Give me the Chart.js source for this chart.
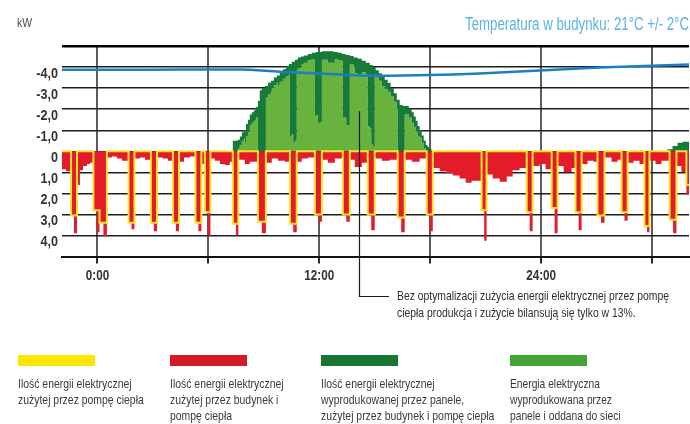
<!DOCTYPE html>
<html lang="pl">
<head>
<meta charset="utf-8">
<title>Zużycie i produkcja energii</title>
<script src="https://cdn.jsdelivr.net/npm/chart.js@4.4.1/dist/chart.umd.min.js"></script>
<style>
  html, body { margin: 0; padding: 0; background: #fff; }
  #wrap { position: relative; width: 690px; height: 424px; overflow: hidden;
          font-family: 'Liberation Sans', Arial, sans-serif; }
  #chart { position: absolute; left: 0; top: 0; }
  .txt { position: absolute; white-space: nowrap; transform-origin: 0 0; }
  #unit { left: 17px; top: 15px; font-size: 13px; color: #4a4a4a; }
  #title { top: 14px; font-size: 18px; color: #5fb2e4; }
  .note { left: 397px; font-size: 13px; color: #2e2e2e; }
  .sw { position: absolute; top: 355px; width: 77px; height: 11px; }
  .leg { position: absolute; top: 376px; font-size: 13px; line-height: 16px; color: #3a3a3a; }
  .leg div { white-space: nowrap; width: max-content; transform-origin: 0 0; }
</style>
</head>
<body>
<div id="wrap">
  <canvas id="chart" width="690" height="424"></canvas>
  <div class="txt" id="unit">kW</div>
  <div class="txt" id="title">Temperatura w budynku: 21°C +/- 2°C</div>
  <div class="txt note" id="note1" style="top:288px">Bez optymalizacji zużycia energii elektrycznej przez pompę</div>
  <div class="txt note" id="note2" style="top:305px">ciepła produkcja i zużycie bilansują się tylko w 13%.</div>

  <div class="sw" style="left:18px;background:#ffe600"></div>
  <div class="sw" style="left:170px;background:#d41a22"></div>
  <div class="sw" style="left:321px;background:#177634"></div>
  <div class="sw" style="left:510px;background:#43a537"></div>

  <div class="leg" style="left:18px" data-w="113.6">
    <div>Ilość energii elektrycznej</div>
    <div>zużytej przez pompę ciepła</div>
  </div>
  <div class="leg" style="left:170px" data-w="113.6">
    <div>Ilość energii elektrycznej</div>
    <div>zużytej przez budynek i</div>
    <div>pompę ciepła</div>
  </div>
  <div class="leg" style="left:321px" data-w="113.6">
    <div>Ilość energii elektrycznej</div>
    <div>wyprodukowanej przez panele,</div>
    <div>zużytej przez budynek i pompę ciepła</div>
  </div>
  <div class="leg" style="left:510px" data-w="90">
    <div>Energia elektryczna</div>
    <div>wyprodukowana przez</div>
    <div>panele i oddana do sieci</div>
  </div>
</div>

<script>
// Time axis in hours (0 = midnight of the first day)
const T_START = -1.92;
const T_END = 32;

// Total consumption of the building incl. heat pump [kW], step changes
const loadH = [-1.92, -1.70, -1.43, -1.27, -1.11, -0.95, -0.78, -0.57, -0.41, -0.22, -0.05, 0.11, 0.32, 0.51, 0.78, 1.05, 1.32,
  1.68, 1.84, 2.00, 2.30, 2.57, 2.89, 3.05, 3.22, 3.54, 3.81, 4.08, 4.24, 4.41, 4.68, 5.00, 5.30, 5.46, 5.62, 5.81, 5.97,
  6.11, 6.35, 6.62, 6.89, 7.16, 7.32, 7.49, 7.62, 7.97, 8.24, 8.68, 8.89, 9.11, 9.43, 9.76, 10.14, 10.41, 10.59, 10.78,
  11.05, 11.38, 11.76, 11.95, 12.14, 12.46, 12.84, 13.27, 13.46, 13.65, 13.92, 14.30, 14.62, 14.81, 15.00, 15.38, 15.81,
  16.24, 16.43, 16.62, 17.00, 17.43, 17.81, 17.97, 18.14, 18.51, 18.89, 19.22, 19.59, 19.92, 20.24, 20.78, 20.92, 21.05,
  21.38, 21.76, 22.14, 22.46, 22.84, 23.22, 23.38, 23.54, 23.92, 24.24, 24.57, 24.73, 24.89, 25.22, 25.65, 25.86, 26.03,
  26.19, 26.51, 26.84, 27.05, 27.24, 27.43, 27.81, 28.14, 28.35, 28.51, 28.68, 29.00, 29.32, 29.59, 29.73, 29.86, 30.19,
  30.51, 30.95, 31.14, 31.32, 31.59, 31.86];
const loadKw = [0.85, 0.95, 3.05, 3.9, 1.6, 0.9, 0.7, 0.6, 0.55, 2.8, 3.85, 3.4, 4.05, 0.3, 0.25, 0.35, 0.45,
  3.4, 3.7, 0.35, 0.3, 0.4, 3.4, 3.8, 0.3, 0.35, 0.45, 3.4, 3.8, 0.5, 0.3, 0.25, 3.4, 3.8, 0.6, 2.9, 4.0,
  0.35, 0.45, 0.6, 0.65, 0.5, 3.45, 4.0, 0.4, 0.6, 0.5, 3.35, 3.9, 0.55, 0.35, 0.45, 0.5, 3.45, 3.85, 0.5,
  0.35, 0.3, 3.0, 3.35, 0.4, 0.55, 0.35, 3.0, 3.35, 0.4, 0.75, 0.55, 3.0, 3.75, 0.35, 0.45, 0.4,
  3.15, 3.85, 0.4, 0.5, 0.35, 3.0, 3.8, 0.8, 0.95, 1.05, 1.15, 1.3, 1.5, 1.4, 2.8, 4.25, 1.1,
  1.3, 1.45, 1.2, 0.9, 0.8, 2.9, 3.8, 0.7, 0.6, 0.85, 2.7, 3.9, 0.7, 1.0, 0.8, 2.9, 3.75,
  0.6, 0.45, 0.5, 3.05, 3.4, 0.3, 0.5, 0.4, 2.9, 3.3, 0.55, 0.45, 0.6, 3.55, 3.85, 0.45, 0.6,
  0.45, 3.25, 3.9, 0.7, 1.0, 2.05];

// Heat pump consumption [kW], step changes (on / off)
const pumpH = [-1.43, -1.11, -0.22, 0.11, 0.51, 1.68, 2.00, 2.89, 3.22, 4.08, 4.41, 5.30, 5.62, 5.81, 6.11, 7.32, 7.62,
  8.68, 9.11, 10.41, 10.78, 11.76, 12.14, 13.27, 13.65, 14.62, 15.00, 16.24, 16.62, 17.81, 18.14, 20.78, 21.05,
  23.22, 23.54, 24.57, 24.89, 25.86, 26.19, 27.05, 27.43, 28.35, 28.68, 29.59, 29.86, 30.95, 31.32, 31.86];
const pumpKw = [3.05, 0, 2.8, 3.4, 0, 3.4, 0, 3.4, 0, 3.4, 0, 3.4, 0, 2.9, 0, 3.45, 0,
  3.35, 0, 3.45, 0, 3.0, 0, 3.0, 0, 3.0, 0, 3.15, 0, 3.0, 0, 2.8, 0,
  2.9, 0, 2.7, 0, 2.9, 0, 3.05, 0, 2.9, 0, 3.55, 0, 3.25, 0, 1.6];

// PV production [kW], step changes
const pvH = [7.32, 7.59, 7.70, 7.81, 7.92, 8.03, 8.14, 8.24, 8.35, 8.46, 8.57, 8.68, 8.78, 8.89, 9.05, 9.22, 9.38,
  9.54, 9.70, 9.86, 10.03, 10.19, 10.35, 10.51, 10.68, 10.84, 11.00, 11.16, 11.38, 11.59, 11.81, 12.14, 12.78,
  13.00, 13.22, 13.43, 13.65, 13.86, 14.08, 14.30, 14.51, 14.73, 14.89, 15.05, 15.22, 15.38, 15.54, 15.70, 15.86,
  16.03, 16.19, 16.35, 16.51, 16.68, 16.84, 17.00, 17.11, 17.22, 17.32, 17.43, 17.54, 17.65, 17.76, 17.86, 17.97,
  18.08, 30.84, 31.11, 31.38, 31.65];
const pvKw = [0.5, 0.55, 0.7, 0.9, 1.0, 1.3, 1.5, 1.75, 1.85, 1.95, 2.1, 2.4, 2.9, 3.0, 3.1, 3.25, 3.35,
  3.5, 3.6, 3.75, 3.9, 4.05, 4.15, 4.25, 4.35, 4.45, 4.5, 4.55, 4.62, 4.68, 4.72, 4.75, 4.72,
  4.68, 4.62, 4.57, 4.52, 4.45, 4.4, 4.3, 4.2, 4.1, 4.0, 3.85, 3.7, 3.55, 3.4, 3.25, 3.0,
  2.75, 2.45, 2.2, 2.15, 2.15, 2.0, 1.85, 1.65, 1.45, 1.2, 1.0, 0.75, 0.5, 0.3, 0.2, 0.1,
  0, 0.1, 0.25, 0.4, 0.45];

// Indoor temperature [°C]
const tempH = [-1.92, 2.84, 7.70, 9.86, 12.57, 15.27, 17.97, 20.68, 23.38, 27.16, 32.0];
const tempC = [21.28, 21.30, 21.32, 21.07, 20.81, 20.60, 20.68, 20.87, 21.15, 21.55, 21.90];

// Axis ticks and labels
const hourTicks = [0, 6, 12, 18, 24, 30];
const hourLabels = ['0:00', '', '12:00', '', '24:00', ''];
const kwTicks = [-5, -4, -3, -2, -1, 0, 1, 2, 3, 4, 5];
const kwLabels = ['', '-4,0', '-3,0', '-2,0', '-1,0', '0', '1,0', '2,0', '3,0', '4,0', ''];

// Note pointer anchor (time, kW)
const noteH = 14.16;
const noteKw = -1.9;

function stepAt(ts, vs, t) {
  let v = 0;
  for (let i = 0; i < ts.length; i++) {
    if (ts[i] <= t + 1e-9) v = vs[i]; else break;
  }
  return v;
}

// Common time grid so that every stepped series shares the same x values
const grid = Array.from(new Set([T_START, ...loadH, ...pumpH, ...pvH, T_END]))
  .filter(t => t >= T_START && t <= T_END)
  .sort((a, b) => a - b);

const loadData = grid.map(t => ({ x: t, y: stepAt(loadH, loadKw, t) }));
const pumpData = grid.map(t => ({ x: t, y: stepAt(pumpH, pumpKw, t) }));
// Production split: own use (min of production and consumption) and export to grid
const exportData = grid.map(t => {
  const pv = stepAt(pvH, pvKw, t);
  const own = Math.min(pv, stepAt(loadH, loadKw, t));
  return { x: t, y: -(pv - own) };
});
const pvData = grid.map(t => ({ x: t, y: -stepAt(pvH, pvKw, t) }));
const tempData = tempH.map((t, i) => ({ x: t, y: tempC[i] }));

// Condensed bold labels for both axes, placed by the chart scales
const axisText = {
  id: 'axisText',
  afterDraw(chart) {
    const { ctx, scales: { x, y } } = chart;
    ctx.save();
    ctx.fillStyle = '#333';
    ctx.font = "bold 15px 'Liberation Sans', Arial, sans-serif";
    ctx.textBaseline = 'alphabetic';
    ctx.textAlign = 'right';
    kwTicks.forEach((v, i) => {
      if (!kwLabels[i]) return;
      ctx.save();
      ctx.translate(y.right - 4, y.getPixelForValue(v) + 10.8);
      ctx.scale(0.84, 1);
      ctx.fillText(kwLabels[i], 0, 0);
      ctx.restore();
    });
    ctx.textAlign = 'center';
    hourTicks.forEach((v, i) => {
      if (!hourLabels[i]) return;
      ctx.save();
      ctx.translate(x.getPixelForValue(v), x.top + 23.5);
      ctx.scale(0.78, 1);
      ctx.fillText(hourLabels[i], 0, 0);
      ctx.restore();
    });
    ctx.restore();
  }
};

const notePointer = {
  id: 'notePointer',
  afterDraw(chart) {
    const { ctx, scales } = chart;
    const px = Math.round(scales.x.getPixelForValue(noteH)) + 0.5;
    const py = scales.y.getPixelForValue(noteKw);
    ctx.save();
    ctx.strokeStyle = '#1a1a1a';
    ctx.lineWidth = 1.2;
    ctx.beginPath();
    ctx.moveTo(px, py);
    ctx.lineTo(px, 296.5);
    ctx.lineTo(389, 296.5);
    ctx.stroke();
    ctx.restore();
  }
};

new Chart(document.getElementById('chart'), {
  type: 'line',
  data: {
    datasets: [
      { label: 'Temperatura', data: tempData, yAxisID: 'yT', borderColor: '#1b7fc1', borderWidth: 2.5,
        pointRadius: 0, tension: 0.4, cubicInterpolationMode: 'monotone', fill: false, order: 0 },
      { label: 'Pompa ciepła', data: pumpData, yAxisID: 'y', stepped: true, borderColor: '#f5e52c',
        borderWidth: 2, pointRadius: 0, fill: false, order: 1 },
      { label: 'Budynek i pompa ciepła', data: loadData, yAxisID: 'y', stepped: true, borderWidth: 0,
        borderColor: 'rgba(0,0,0,0)', backgroundColor: '#e31b2b', pointRadius: 0, fill: 'origin', order: 2 },
      { label: 'Oddana do sieci', data: exportData, yAxisID: 'y', stepped: true, borderWidth: 0,
        borderColor: 'rgba(0,0,0,0)', backgroundColor: '#68b33e', pointRadius: 0, fill: 'origin', order: 4 },
      { label: 'Zużyta na miejscu', data: pvData, yAxisID: 'y', stepped: true, borderWidth: 0,
        borderColor: 'rgba(0,0,0,0)', backgroundColor: '#177a38', pointRadius: 0, fill: 3, order: 3 }
    ]
  },
  options: {
    responsive: false,
    animation: false,
    devicePixelRatio: 1,
    layout: { padding: { top: 46, right: 1, bottom: 127.5, left: 0 } },
    plugins: { legend: { display: false }, tooltip: { enabled: false } },
    scales: {
      x: {
        type: 'linear', min: T_START, max: T_END,
        afterBuildTicks: s => { s.ticks = hourTicks.map(v => ({ value: v })); },
        afterFit: s => { s.height = 40; },
        grid: { color: '#5c5c5c', lineWidth: 2, drawTicks: true, tickLength: 7, tickColor: '#2a2a2a', tickWidth: 2 },
        border: { display: true, color: '#111', width: 2 },
        ticks: { display: false }
      },
      y: {
        type: 'linear', reverse: true, min: -5, max: 5,
        afterBuildTicks: s => { s.ticks = kwTicks.map(v => ({ value: v })); },
        afterFit: s => { s.width = 62; },
        grid: {
          drawTicks: false,
          color: c => (c.tick && Math.abs(c.tick.value) === 5) ? '#000' : '#1e1e1e',
          lineWidth: c => (c.tick && c.tick.value === -5) ? 2.5 : (c.tick && c.tick.value === 5 ? 2 : 1.4)
        },
        border: { display: false },
        ticks: { display: false }
      },
      yT: { type: 'linear', display: false, min: 0, max: 24 }
    }
  },
  plugins: [axisText, notePointer]
});

// Condensed look for the HTML texts: squeeze each text to its set width
function squeeze(el, w) {
  el.style.transform = 'none';
  const nat = el.getBoundingClientRect().width;
  el.style.transform = 'scaleX(' + (w / nat) + ')';
}
const title = document.getElementById('title');
squeeze(title, 224);
title.style.left = (689 - 224) + 'px';
squeeze(document.getElementById('unit'), 15);
const n1 = document.getElementById('note1');
const n2 = document.getElementById('note2');
n1.style.transform = 'none';
const kNote = 272 / n1.getBoundingClientRect().width;
n1.style.transform = n2.style.transform = 'scaleX(' + kNote + ')';
document.querySelectorAll('.leg').forEach(block => {
  const lines = block.querySelectorAll('div');
  const k = parseFloat(block.dataset.w) / lines[0].getBoundingClientRect().width;
  lines.forEach(l => { l.style.transform = 'scaleX(' + k + ')'; });
});
</script>
</body>
</html>
